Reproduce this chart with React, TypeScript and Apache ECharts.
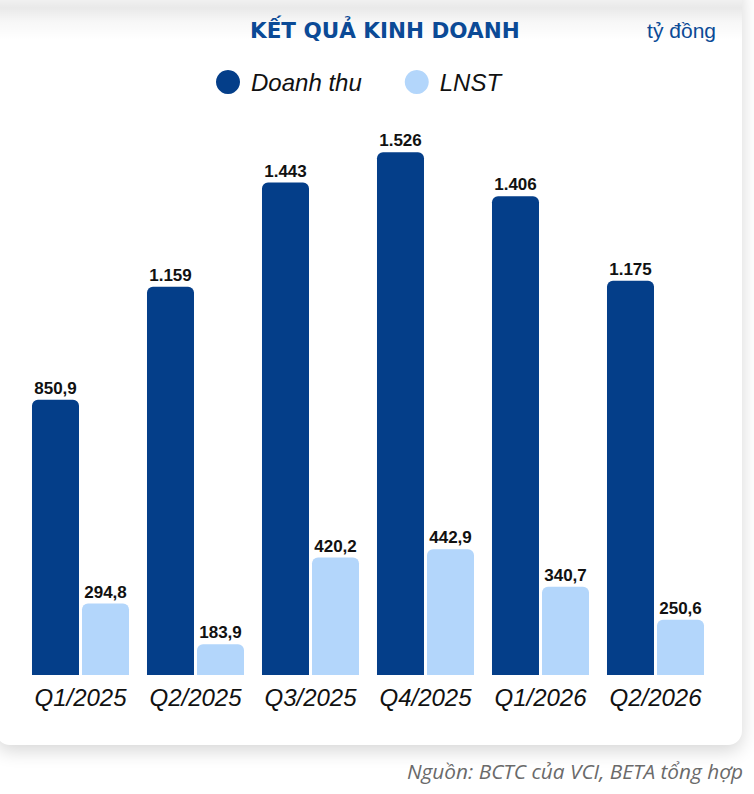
import React, { useEffect, useRef } from "react";
import * as echarts from "echarts";

const categories = ["Q1/2025", "Q2/2025", "Q3/2025", "Q4/2025", "Q1/2026", "Q2/2026"];
const revenue = [850.9, 1159, 1443, 1526, 1406, 1175];
const profit = [294.8, 183.9, 420.2, 442.9, 340.7, 250.6];
const seriesNames = ["Doanh thu", "LNST"];

const DARK = "#043e89";
const LIGHT = "#b3d6fb";
const TITLE_BLUE = "#0b4a96";

function fmtVN(v: number): string {
  if (v >= 1000) {
    const s = Math.round(v).toString();
    return s.replace(/\B(?=(\d{3})+(?!\d))/g, ".");
  }
  return v.toFixed(1).replace(".", ",");
}

export default function App() {
  const ref = useRef<HTMLDivElement>(null);

  useEffect(() => {
    document.body.style.margin = "0";
    document.body.style.background = "#ffffff";
    if (!ref.current) return;
    const chart = echarts.init(ref.current, undefined, { renderer: "svg" });
    const labelStyle = {
      show: true,
      position: "top" as const,
      distance: 3,
      fontFamily: "Liberation Sans",
      fontWeight: "bold" as const,
      fontSize: 17,
      color: "#111111",
      formatter: (p: any) => fmtVN(p.value),
    };
    chart.setOption({
      animation: false,
      backgroundColor: "transparent",
      title: {
        text: "KẾT QUẢ KINH DOANH",
        left: 250,
        top: 19,
        padding: 0,
        textStyle: {
          fontFamily: "DejaVu Sans",
          fontWeight: "bold",
          fontSize: 21.5,
          color: TITLE_BLUE,
        },
      },
      legend: {
        data: seriesNames,
        left: 216,
        top: 70,
        icon: "circle",
        itemWidth: 24,
        itemHeight: 24,
        itemGap: 43,
        padding: 0,
        textStyle: {
          fontFamily: "Liberation Sans",
          fontStyle: "italic",
          fontSize: 24,
          color: "#111111",
          padding: [0, 0, 0, 6],
        },
      },
      graphic: [
        {
          type: "text",
          right: 754 - 716,
          top: 20,
          style: {
            text: "tỷ đồng",
            fontFamily: "Liberation Sans",
            fontSize: 21,
            fill: TITLE_BLUE,
          },
        },
        {
          type: "text",
          right: 754 - 743,
          top: 760,
          style: {
            text: "Nguồn: BCTC của VCI, BETA tổng hợp",
            fontFamily: "Open Sans",
            fontStyle: "italic",
            fontSize: 20.8,
            fill: "#6a6a6a",
          },
        },
      ],
      grid: { left: 23, right: 41, top: 125, bottom: 119 },
      xAxis: {
        type: "category",
        data: categories,
        axisLine: { show: false },
        axisTick: { show: false },
        axisLabel: {
          margin: 10,
          fontFamily: "Liberation Sans",
          fontStyle: "italic",
          fontSize: 24,
          color: "#111111",
          interval: 0,
        },
      },
      yAxis: {
        type: "value",
        min: 100,
        max: 1600,
        show: false,
        splitLine: { show: false },
      },
      series: [
        {
          name: seriesNames[0],
          type: "bar",
          data: revenue,
          barWidth: 47,
          barGap: "6.4%",
          itemStyle: { color: DARK, borderRadius: [6, 6, 0, 0] },
          label: labelStyle,
        },
        {
          name: seriesNames[1],
          type: "bar",
          data: profit,
          barWidth: 47,
          itemStyle: { color: LIGHT, borderRadius: [6, 6, 0, 0] },
          label: labelStyle,
        },
      ],
    });
    return () => chart.dispose();
  }, []);

  return (
    <div style={{ position: "fixed", left: 0, top: 0, width: 754, height: 794, background: "#fff", overflow: "hidden" }}>
      <div
        style={{
          position: "absolute",
          left: -4,
          top: -20,
          width: 746,
          height: 765,
          background: "#fff",
          borderRadius: 14,
          boxShadow: "0 6px 18px rgba(0,0,0,0.16)",
        }}
      />
      <div
        style={{
          position: "absolute",
          left: 0,
          top: 0,
          width: 742,
          height: 40,
          background:
            "linear-gradient(to bottom, rgba(0,0,0,0.06) 0px, rgba(0,0,0,0.085) 8px, rgba(0,0,0,0.03) 22px, rgba(0,0,0,0) 40px)",
        }}
      />
      <div ref={ref} style={{ position: "absolute", left: 0, top: 0, width: 754, height: 794 }} />
    </div>
  );
}
